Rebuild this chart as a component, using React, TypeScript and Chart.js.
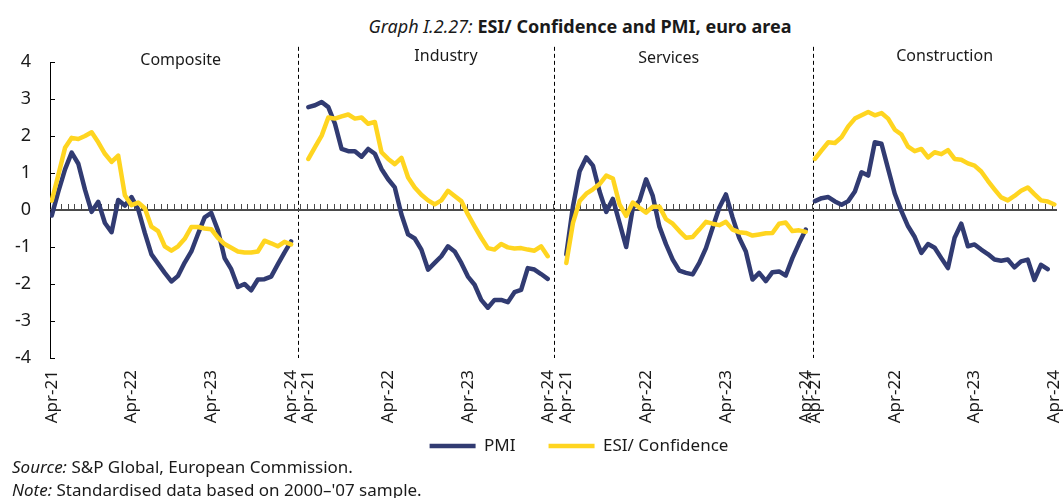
import React, { useEffect, useRef } from 'react';
import { Chart, registerables } from 'chart.js';

Chart.register(...registerables);

// ---------------- data ----------------
const PANEL_NAMES = ['Composite', 'Industry', 'Services', 'Construction'];
const X_LABELS = ['Apr-21', 'Apr-22', 'Apr-23', 'Apr-24'];
const X_LABEL_MONTH = [0, 12, 24, 36];

// monthly, Apr-21 .. Apr-24 (37 months)
const COMPOSITE_PMI = [-0.15, 0.5, 1.1, 1.55, 1.25, 0.55, -0.05, 0.22, -0.35, -0.6, 0.27, 0.12, 0.35, 0.02, -0.62, -1.2, -1.45, -1.7, -1.93, -1.78, -1.42, -1.12, -0.65, -0.2, -0.08, -0.55, -1.3, -1.6, -2.08, -2.0, -2.17, -1.88, -1.87, -1.8, -1.47, -1.15, -0.85];
const COMPOSITE_ESI = [0.25, 0.95, 1.68, 1.95, 1.92, 2.0, 2.1, 1.83, 1.52, 1.3, 1.47, 0.4, 0.13, 0.2, 0.05, -0.45, -0.57, -0.98, -1.1, -0.98, -0.78, -0.46, -0.46, -0.5, -0.52, -0.75, -0.92, -1.02, -1.12, -1.15, -1.15, -1.12, -0.83, -0.9, -0.98, -0.86, -0.93];
const INDUSTRY_PMI = [2.78, 2.83, 2.92, 2.78, 2.33, 1.65, 1.59, 1.59, 1.44, 1.65, 1.52, 1.11, 0.83, 0.61, -0.12, -0.66, -0.77, -1.07, -1.61, -1.43, -1.25, -0.98, -1.12, -1.43, -1.8, -2.02, -2.43, -2.64, -2.43, -2.43, -2.49, -2.22, -2.16, -1.57, -1.61, -1.73, -1.86];
const INDUSTRY_ESI = [1.38, 1.7, 2.01, 2.5, 2.47, 2.53, 2.58, 2.47, 2.5, 2.33, 2.38, 1.56, 1.38, 1.24, 1.41, 0.88, 0.61, 0.41, 0.26, 0.15, 0.26, 0.52, 0.38, 0.24, -0.12, -0.44, -0.75, -1.03, -1.07, -0.92, -1.01, -1.04, -1.03, -1.07, -1.1, -0.98, -1.25];
const SERVICES_PMI = [-1.2, 0.1, 1.05, 1.42, 1.2, 0.5, -0.05, 0.3, -0.35, -1.0, 0.06, 0.25, 0.83, 0.38, -0.45, -0.93, -1.34, -1.64, -1.7, -1.74, -1.43, -1.03, -0.48, 0.06, 0.42, -0.2, -0.75, -1.12, -1.88, -1.7, -1.92, -1.68, -1.66, -1.77, -1.3, -0.9, -0.53];
const SERVICES_ESI = [-1.43, -0.35, 0.24, 0.44, 0.56, 0.7, 0.93, 0.85, 0.15, -0.16, 0.2, 0.06, -0.07, 0.09, 0.09, -0.25, -0.37, -0.57, -0.75, -0.73, -0.53, -0.32, -0.37, -0.41, -0.32, -0.53, -0.6, -0.62, -0.69, -0.66, -0.63, -0.62, -0.37, -0.34, -0.57, -0.55, -0.59];
const CONSTRUCTION_PMI = [0.24, 0.32, 0.35, 0.23, 0.14, 0.24, 0.5, 1.02, 0.93, 1.83, 1.79, 1.11, 0.44, -0.03, -0.44, -0.73, -1.16, -0.92, -1.02, -1.3, -1.57, -0.75, -0.37, -0.98, -0.93, -1.07, -1.19, -1.34, -1.37, -1.34, -1.55, -1.39, -1.34, -1.89, -1.48, -1.6, null];
const CONSTRUCTION_ESI = [1.38, 1.61, 1.83, 1.81, 1.97, 2.26, 2.47, 2.56, 2.65, 2.56, 2.62, 2.47, 2.17, 2.04, 1.71, 1.59, 1.65, 1.42, 1.56, 1.51, 1.62, 1.38, 1.36, 1.26, 1.2, 1.04, 0.79, 0.56, 0.34, 0.26, 0.38, 0.52, 0.61, 0.43, 0.26, 0.23, 0.15];

const Y_MIN = -4;
const Y_MAX = 4;

// ---------------- layout (x in month units) ----------------
const PANEL_START = [0, 38.6, 77.4, 114.8];
const SEPARATORS = [37.05, 75.5, 114.55];
const X_MIN = -0.26;
const X_MAX = 151.2;
const TICK_PHASE = 0.4;
const TITLE_POS: [number, number][] = [[19.4, 4.05], [59.3, 4.16], [92.8, 4.1], [134.3, 4.14]];
const SEPARATOR_OVERHANG = 0.41;
const LEGEND_CENTER_X = 579;
const LEGEND_TEXT_Y = 446;
const LEGEND_PAD = 33;
const LEGEND_FONT = 17;

const FONT = "'Noto Sans', 'DejaVu Sans', sans-serif";
const PMI_COLOR = '#313B72';
const ESI_COLOR = '#FFD520';
const TEXT = '#1a1a1a';

function buildPoints(series: (number | null)[][]) {
  const pts: { x: number; y: number | null }[] = [];
  series.forEach((vals, p) => {
    vals.forEach((v, i) => pts.push({ x: PANEL_START[p] + i, y: v }));
    if (p < series.length - 1) pts.push({ x: PANEL_START[p] + vals.length - 0.5, y: null });
  });
  return pts;
}

const TICK_VALUES = PANEL_START.flatMap((s) => X_LABEL_MONTH.map((m) => s + m));
const TICK_TEXT = PANEL_START.flatMap(() => X_LABELS);

const decorPlugin = {
  id: 'decor',
  beforeDatasetsDraw(chart: any) {
    const { ctx, chartArea: a, scales } = chart;
    const x = scales.x;
    const y = scales.y;
    const y0 = Math.round(y.getPixelForValue(0));
    ctx.save();
    // panel separators
    ctx.strokeStyle = '#000';
    ctx.lineWidth = 1;
    ctx.setLineDash([4, 3]);
    const top = y.getPixelForValue(Y_MAX + SEPARATOR_OVERHANG);
    SEPARATORS.forEach((v) => {
      const px = Math.round(x.getPixelForValue(v)) + 0.5;
      ctx.beginPath();
      ctx.moveTo(px, top);
      ctx.lineTo(px, a.bottom);
      ctx.stroke();
    });
    ctx.setLineDash([]);
    // zero line
    ctx.strokeStyle = '#4a4a4a';
    ctx.lineWidth = 2;
    ctx.beginPath();
    ctx.moveTo(a.left, y0);
    ctx.lineTo(a.right, y0);
    ctx.stroke();
    // month tick marks
    ctx.lineWidth = 1;
    ctx.beginPath();
    for (let v = TICK_PHASE; v <= X_MAX; v += 1) {
      const px = Math.round(x.getPixelForValue(v)) + 0.5;
      ctx.moveTo(px, y0);
      ctx.lineTo(px, y0 - 6);
    }
    ctx.stroke();
    // y tick marks (inside)
    ctx.strokeStyle = '#000';
    ctx.beginPath();
    for (let v = Y_MIN; v <= Y_MAX; v++) {
      const py = Math.round(y.getPixelForValue(v)) + 0.5;
      ctx.moveTo(a.left, py);
      ctx.lineTo(a.left + 5, py);
    }
    ctx.stroke();
    // panel titles
    ctx.fillStyle = TEXT;
    ctx.font = `16px ${FONT}`;
    ctx.textAlign = 'center';
    ctx.textBaseline = 'middle';
    PANEL_NAMES.forEach((n, i) => {
      ctx.fillText(n, x.getPixelForValue(TITLE_POS[i][0]), y.getPixelForValue(TITLE_POS[i][1]));
    });
    ctx.restore();
  },
};

const legendPlacePlugin = {
  id: 'legendPlace',
  afterLayout(chart: any) {
    const l = chart.legend;
    if (!l) return;
    const dx = LEGEND_CENTER_X - (l.left + l.right) / 2;
    l.left += dx;
    l.right += dx;
    const newTop = LEGEND_TEXT_Y - LEGEND_PAD - LEGEND_FONT / 2;
    const dy = newTop - l.top;
    l.top += dy;
    l.bottom += dy;
  },
};

export default function App() {
  const ref = useRef<HTMLCanvasElement>(null);

  useEffect(() => {
    if (!ref.current) return;
    const chart = new Chart(ref.current, {
      type: 'line',
      data: {
        datasets: [
          {
            label: 'PMI',
            data: buildPoints([COMPOSITE_PMI, INDUSTRY_PMI, SERVICES_PMI, CONSTRUCTION_PMI]) as any,
            borderColor: PMI_COLOR,
            backgroundColor: PMI_COLOR,
            borderWidth: 4.5,
            pointRadius: 0,
            pointHoverRadius: 0,
            tension: 0,
            spanGaps: false,
            borderCapStyle: 'round',
            borderJoinStyle: 'round',
            order: 1,
          },
          {
            label: 'ESI/ Confidence',
            data: buildPoints([COMPOSITE_ESI, INDUSTRY_ESI, SERVICES_ESI, CONSTRUCTION_ESI]) as any,
            borderColor: ESI_COLOR,
            backgroundColor: ESI_COLOR,
            borderWidth: 4.5,
            pointRadius: 0,
            pointHoverRadius: 0,
            tension: 0,
            spanGaps: false,
            borderCapStyle: 'round',
            borderJoinStyle: 'round',
            order: 0,
          },
        ],
      },
      options: {
        animation: false,
        responsive: false,
        events: [],
        layout: { padding: { top: 62, right: 7, bottom: 0, left: 0 } },
        scales: {
          x: {
            type: 'linear',
            min: X_MIN,
            max: X_MAX,
            bounds: 'data',
            grid: { display: false, drawTicks: false },
            border: { display: false },
            afterBuildTicks: (s: any) => {
              s.ticks = TICK_VALUES.map((v) => ({ value: v }));
            },
            afterFit: (s: any) => {
              s.height = 76;
              s.paddingLeft = 0;
              s.paddingRight = 0;
            },
            ticks: {
              autoSkip: false,
              minRotation: 90,
              maxRotation: 90,
              padding: 12,
              color: TEXT,
              font: { family: FONT, size: 17 },
              callback: (_v: any, i: number) => TICK_TEXT[i],
            },
          },
          y: {
            min: Y_MIN,
            max: Y_MAX,
            grid: { display: false, drawTicks: false },
            border: { display: true, color: '#000', width: 1 },
            afterFit: (s: any) => {
              s.width = 50;
            },
            ticks: { stepSize: 1, padding: 19, color: TEXT, font: { family: FONT, size: 18 } },
          },
        },
        plugins: {
          title: { display: false },
          tooltip: { enabled: false },
          legend: {
            position: 'bottom',
            labels: {
              usePointStyle: true,
              pointStyle: 'line',
              pointStyleWidth: 46,
              padding: LEGEND_PAD,
              color: TEXT,
              font: { family: FONT, size: LEGEND_FONT },
              sort: (a: any, b: any) => a.datasetIndex - b.datasetIndex,
            },
          },
        },
      } as any,
      plugins: [decorPlugin, legendPlacePlugin],
    });
    return () => chart.destroy();
  }, []);

  return (
    <div style={{ position: 'absolute', left: 0, top: 0, width: 1064, height: 498, background: '#fff', fontFamily: FONT, color: TEXT, overflow: 'hidden' }}>
      <div style={{ position: 'absolute', left: 0, top: 14, width: 1064, paddingLeft: 96, boxSizing: 'border-box', textAlign: 'center', fontSize: 18, lineHeight: '24px', whiteSpace: 'nowrap' }}>
        <span style={{ fontStyle: 'italic' }}>Graph I.2.27:</span>{' '}
        <span style={{ fontWeight: 700 }}>ESI/ Confidence and PMI, euro area</span>
      </div>
      <canvas ref={ref} width={1064} height={494} style={{ position: 'absolute', left: 0, top: 0, display: 'block' }} />
      <div style={{ position: 'absolute', left: 12, top: 455, fontSize: 17, lineHeight: '23px', whiteSpace: 'nowrap' }}>
        <div><i>Source:</i> S&amp;P Global, European Commission.</div>
        <div><i>Note:</i> Standardised data based on 2000–'07 sample.</div>
      </div>
    </div>
  );
}
